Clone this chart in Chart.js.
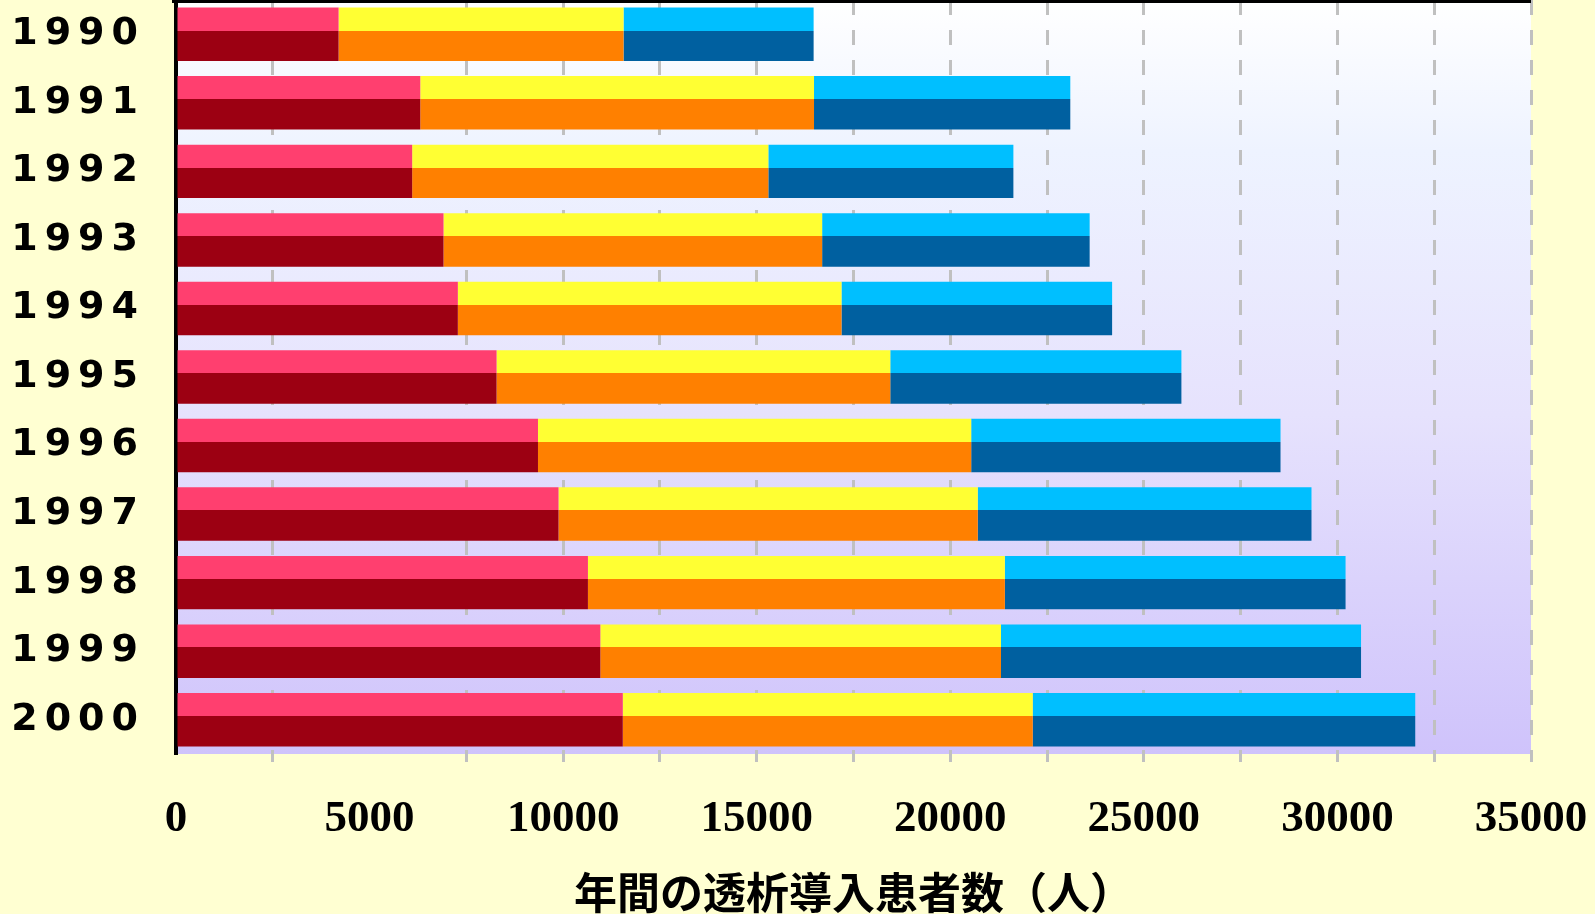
<!DOCTYPE html>
<html>
<head>
<meta charset="utf-8">
<script src="https://cdn.jsdelivr.net/npm/chart.js@4/dist/chart.umd.min.js"></script>
<style>
  html, body { margin: 0; padding: 0; background: #ffffd2; }
  #wrap { width: 1595px; height: 914px; position: relative; }
</style>
</head>
<body>
<div id="wrap"><canvas id="chart"></canvas></div>
<script>
const years  = ['1990','1991','1992','1993','1994','1995','1996','1997','1998','1999','2000'];
const seg1   = [4200, 6310, 6100, 6910, 7280, 8280, 9350, 9880, 10640, 10960, 11540];
const seg2   = [7360, 10170, 9200, 9780, 9910, 10170, 11190, 10830, 10770, 10350, 10590];
const seg3   = [4910, 6620, 6330, 6910, 6990, 7520, 7990, 8620, 8800, 9300, 9880];
const xTicks = [0, 5000, 10000, 15000, 20000, 25000, 30000, 35000];

const BAR_PCT = 0.78;
const SPLIT   = 0.43;   // light upper part of each bar

// each bar: light colour on top, dark colour underneath
const twoTone = (light, dark) => (c) => {
  const y = c.chart.scales.y;
  if (!y || c.dataIndex === undefined) return dark;
  const mid  = y.getPixelForValue(c.dataIndex);
  const half = (y.height / years.length) * BAR_PCT / 2;
  if (!Number.isFinite(mid) || !Number.isFinite(half) || half <= 0) return dark;
  const g = c.chart.ctx.createLinearGradient(0, mid - half, 0, mid + half);
  g.addColorStop(0, light);
  g.addColorStop(SPLIT, light);
  g.addColorStop(SPLIT, dark);
  g.addColorStop(1, dark);
  return g;
};

// 0 is covered by the axis, 5000 has no grid line in the original
const gridColor = (c) => (c.tick && (c.tick.value === 5000 || c.tick.value === 0)) ? 'rgba(0,0,0,0)' : '#c0c0c0';

const plotBg = {
  id: 'plotBg',
  beforeDraw(chart) {
    const { ctx, chartArea: a } = chart;
    const g = ctx.createLinearGradient(0, a.top, 0, a.bottom);
    g.addColorStop(0, '#ffffff');
    g.addColorStop(0.2, '#eef3ff');
    g.addColorStop(0.55, '#e6e2fd');
    g.addColorStop(1, '#cfc3fb');
    ctx.save();
    ctx.fillStyle = g;
    ctx.fillRect(a.left, a.top, a.right - a.left, a.bottom - a.top);
    ctx.restore();
  },
  beforeDatasetsDraw(chart) {
    const { ctx, chartArea: a } = chart;
    ctx.save();
    ctx.fillStyle = '#000';
    ctx.fillRect(a.left - 4, a.top, a.right - a.left + 4, 3);
    ctx.restore();
  }
};

const chart = new Chart(document.getElementById('chart'), {
  type: 'bar',
  data: {
    labels: years,
    datasets: [
      { label: 's1', data: seg1, backgroundColor: twoTone('#ff3f6f', '#9c0012') },
      { label: 's2', data: seg2, backgroundColor: twoTone('#ffff33', '#ff8000') },
      { label: 's3', data: seg3, backgroundColor: twoTone('#00bfff', '#0060a0') }
    ]
  },
  options: {
    indexAxis: 'y',
    responsive: true,
    maintainAspectRatio: false,
    animation: false,
    events: [],
    layout: { autoPadding: false, padding: { left: 0, right: 64, top: 0, bottom: 0 } },
    datasets: { bar: { barPercentage: BAR_PCT, categoryPercentage: 1, borderWidth: 0 } },
    plugins: { legend: { display: false }, tooltip: { enabled: false } },
    scales: {
      x: {
        stacked: true,
        min: 0,
        max: 35000,
        afterFit: (s) => { s.height = 160; s.paddingLeft = 0; s.paddingRight = 0; },
        afterBuildTicks: (s) => {
          const t = [];
          for (let v = 0; v <= 35000; v += 2500) t.push({ value: v });
          s.ticks = t;
        },
        grid: {
          color: gridColor,
          lineWidth: 3,
          tickLength: 8,
          tickColor: gridColor,
          tickWidth: 3
        },
        border: { display: false, dash: [15, 15] },
        ticks: {
          autoSkip: false,
          maxRotation: 0,
          padding: 35,
          color: '#000',
          font: { family: '"Liberation Serif", serif', size: 45, weight: 'bold', lineHeight: 1 },
          callback: (v) => xTicks.includes(v) ? String(v) : ''
        },
        title: {
          display: true,
          text: '年間の透析導入患者数（人）',
          color: '#000',
          padding: { top: 0, bottom: 0 },
          font: { family: '"Noto Sans CJK JP", sans-serif', size: 43, weight: 'bold', lineHeight: 1 }
        }
      },
      y: {
        stacked: true,
        afterFit: (s) => { s.width = 176; s.paddingTop = 0; s.paddingBottom = 0; },
        grid: { display: false, drawTicks: false },
        border: { display: true, color: '#000', width: 4 },
        ticks: {
          padding: 31,
          color: '#000',
          font: { family: '"DejaVu Sans", sans-serif', size: 38, weight: 'bold' }
        }
      }
    }
  },
  plugins: [plotBg]
});

// the year labels are widely spaced in the original
const yScale = chart.scales.y;
const drawYLabels = yScale.drawLabels;
yScale.drawLabels = function (area) {
  this.ctx.save();
  this.ctx.letterSpacing = '7px';
  drawYLabels.call(this, area);
  this.ctx.restore();
};
// gradients depend on final scale pixels
chart.update();
</script>
</body>
</html>
